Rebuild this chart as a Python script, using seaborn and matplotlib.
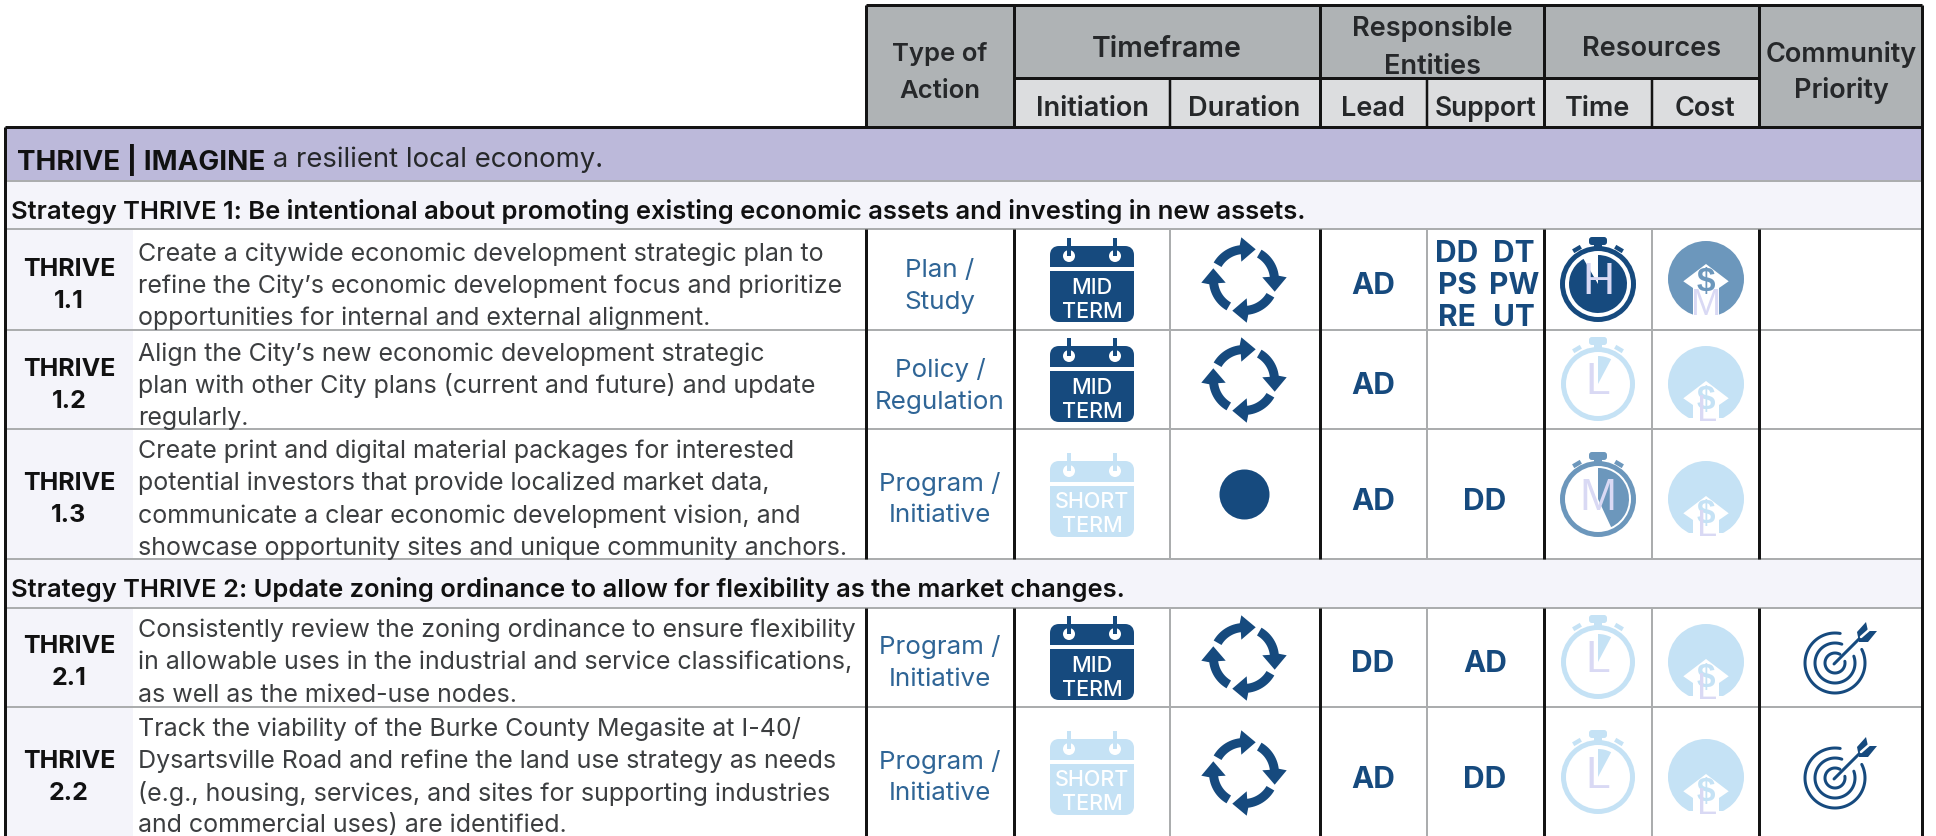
import numpy as np
import pandas as pd
import matplotlib
matplotlib.use("Agg")
import matplotlib.pyplot as plt
from matplotlib.patches import Circle, FancyBboxPatch, Polygon, Rectangle, Wedge
import seaborn as sns

# Table content
band_bold = "THRIVE | IMAGINE"
band_rest = " a resilient local economy."
strategy_titles = [
    "Strategy THRIVE 1: Be intentional about promoting existing economic assets and investing in new assets.",
    "Strategy THRIVE 2: Update zoning ordinance to allow for flexibility as the market changes.",
]
row_ids = ["1.1", "1.2", "1.3", "2.1", "2.2"]
row_text = [
    ["Create a citywide economic development strategic plan to",
     "refine the City\u2019s economic development focus and prioritize",
     "opportunities for internal and external alignment."],
    ["Align the City\u2019s new economic development strategic",
     "plan with other City plans (current and future) and update",
     "regularly."],
    ["Create print and digital material packages for interested",
     "potential investors that provide localized market data,",
     "communicate a clear economic development vision, and",
     "showcase opportunity sites and unique community anchors."],
    ["Consistently review the zoning ordinance to ensure flexibility",
     "in allowable uses in the industrial and service classifications,",
     "as well as the mixed-use nodes."],
    ["Track the viability of the Burke County Megasite at I-40/",
     "Dysartsville Road and refine the land use strategy as needs",
     "(e.g., housing, services, and sites for supporting industries",
     "and commercial uses) are identified."],
]
action_types = [["Plan /", "Study"], ["Policy /", "Regulation"], ["Program /", "Initiative"],
                ["Program /", "Initiative"], ["Program /", "Initiative"]]
initiation = ["MID", "MID", "SHORT", "MID", "SHORT"]
duration = ["ongoing", "ongoing", "once", "ongoing", "ongoing"]
lead = ["AD", "AD", "AD", "DD", "AD"]
support = [["DD", "DT", "PS", "PW", "RE", "UT"], [], ["DD"], ["AD"], ["DD"]]
time_need = ["H", "L", "M", "L", "L"]
cost_need = ["M", "L", "L", "L", "L"]
priority = [False, False, False, True, True]

sns.set_theme(style="white")
FONT = "Inter"
plt.rcParams["font.family"] = [FONT, "DejaVu Sans"]

# colours by level
pal = sns.blend_palette(["#C5E2F5", "#6C97BC", "#164A7E"], 3)
level_col = {"L": pal[0], "M": pal[1], "H": pal[2]}
DARK = "#164A7E"
LINK = "#2F6596"
INK = "#26282A"
BODY = "#3C3E40"
LETTER = "#D9D9F4"
GREY = "#ABADAE"
BLACK = "#141414"

# layout, all in reference pixels
W, H = 1936, 836
row_tops = [229, 330, 429, 608, 707]
row_bots = [330, 429, 559, 707, 836]
icon_top = [238, 338, 453, 616, 731]
cost_cy = [279, 384, 499, 662, 777]
line_y = [[252, 284, 316], [352, 384, 416], [449, 481.5, 514, 546],
          [628.5, 660.5, 693], [727, 759, 791, 823.5]]
id_y = [[267, 300], [368, 400], [481.5, 514], [644.5, 676.5], [759, 791]]
type_y = [[268, 300], [368, 400], [482, 514], [645, 677], [760, 792]]
mid_y = [284, 384, 499, 662, 777]
X_TYPE, X_INIT, X_DUR, X_LEAD, X_SUP, X_TIME, X_COST, X_PRI = 940, 1092, 1244, 1373, 1485, 1598, 1706, 1835


def px(n):
    return n * 0.72


fig = plt.figure(figsize=(W / 100, H / 100), dpi=100, facecolor="white")
ax = fig.add_axes([0, 0, 1, 1])
ax.set_xlim(0, W)
ax.set_ylim(H, 0)
ax.axis("off")


def rect(x0, y0, x1, y1, color, z=1):
    ax.add_patch(Rectangle((x0, y0), x1 - x0, y1 - y0, fc=color, ec="none", zorder=z))


def hline(y, x0, x1, color, w):
    ax.plot([x0, x1], [y, y], color=color, lw=px(w), solid_capstyle="butt", zorder=5)


def vline(x, y0, y1, color, w):
    ax.plot([x, x], [y0, y1], color=color, lw=px(w), solid_capstyle="butt", zorder=5)


def label(x, y, s, size, color=INK, weight="normal", ha="center", z=6, **kw):
    return ax.text(x, y - 0.5, s, fontsize=size, color=color, fontweight=weight, ha=ha,
                   va="center_baseline", zorder=z, **kw)


def calendar(cx, y0, term):
    col = level_col["H"] if term == "MID" else level_col["L"]
    ax.add_patch(FancyBboxPatch((cx - 39, y0 + 11), 78, 70, boxstyle="round,pad=0,rounding_size=6",
                                fc=col, ec=col, lw=px(6), zorder=7, joinstyle="round"))
    rect(cx - 43, y0 + 29, cx + 43, y0 + 33, "white", 8)
    for dx in (-23, 23):
        ax.add_patch(Circle((cx + dx, y0 + 18), 6, fc="white", ec="none", zorder=8))
        rect(cx + dx - 2, y0, cx + dx + 2, y0 + 18, col, 9)
    label(cx, y0 + 48, term, 15.5, "white", "medium", z=9)
    label(cx, y0 + 72, "TERM", 15.5, "white", "medium", z=9)


def cycle(cx, cy):
    t = np.radians(np.linspace(150, 97, 16))
    outer = np.c_[35 * np.cos(t), -35 * np.sin(t)]
    inner = np.c_[26 * np.cos(t[::-1]), -26 * np.sin(t[::-1])]
    head = np.array([[-2.7, -42.7], [11.7, -30.7], [-2.7, -18.3]])
    shape = np.r_[outer, head[:1], head[1:2], head[2:], inner]
    for k in range(4):
        ang = np.pi / 2 * k
        rot = np.array([[np.cos(ang), -np.sin(ang)], [np.sin(ang), np.cos(ang)]])
        ax.add_patch(Polygon(shape @ rot.T + [cx, cy], fc=DARK, ec="none", zorder=7))


def stopwatch(cx, y0, level):
    col = level_col[level]
    cy = y0 + 47
    r = 38 if level != "L" else 37
    ax.add_patch(Circle((cx, cy), r - 2.5, fc="none", ec=col, lw=px(5), zorder=7))
    ax.add_patch(FancyBboxPatch((cx - 8, y0 + 1), 16, 6, boxstyle="round,pad=0,rounding_size=2",
                                fc=col, ec=col, lw=px(2), zorder=7))
    rect(cx - 4, y0 + 7, cx + 4, y0 + 11, col, 7)
    for sgn in (-1, 1):
        c = np.array([cx + sgn * 21, y0 + 12])
        d = np.array([sgn * 0.85, 0.5]) * 4.5
        n = np.array([-0.5, sgn * 0.85]) * 2.2
        ax.add_patch(Polygon([c - d - n, c + d - n, c + d + n, c - d + n], fc=col, ec="none", zorder=7))
    sweep = {"L": 28, "M": 155, "H": 330}[level]
    rad = {"L": 28, "M": 31, "H": 29}[level]
    ax.add_patch(Wedge((cx, cy), rad, -90, -90 + sweep, fc=col, ec="none", zorder=7))
    ax.text(cx, cy - 1, level, fontsize=32, family="Liberation Sans", color=LETTER,
            ha="center", va="center", zorder=8)


def cost(cx, cy, level):
    col = level_col[level]
    low = level == "L"
    drop = 12 if low else 0
    clip = Rectangle((cx - 45, cy - 45), 90, 45 + (34 if low else 36), transform=ax.transData)
    disc = Circle((cx, cy), 38, fc=col, ec="none", zorder=7)
    ax.add_patch(disc)
    disc.set_clip_path(clip)
    house = [(0, -15), (22.7, 2.3), (13, 9), (13, 40), (-13, 40), (-13, 9), (-22.7, 2.3)]
    hp = Polygon(np.array(house) + [cx, cy + drop], fc="white", ec="none", zorder=8)
    ax.add_patch(hp)
    hp.set_clip_path(clip)
    ax.text(cx, cy + 4 + drop, "$", fontsize=24, family="Liberation Sans", fontweight="bold", color=col,
            ha="center", va="center", zorder=9)
    t = ax.text(cx + (1 if low else 0), cy + (37 if low else 36), level, fontsize=26,
                family="Liberation Sans", color=LETTER, ha="center", va="baseline", zorder=10)
    t.set_clip_path(clip)


def target(cx, cy):
    for r, a0, a1 in [(30, -27, 280), (20, -20, 290), (10, -10, 300)]:
        t = np.radians(np.linspace(a0, a1, 90))
        ax.plot(cx + r * np.cos(t), cy + r * np.sin(t), color=DARK, lw=px(3), zorder=7,
                solid_capstyle="round")
    ax.plot([cx - 1, cx + 26], [cy + 1, cy - 26], color=DARK, lw=px(3), zorder=7)
    fl = np.array([(22, -31), (31, -41), (33, -32), (42, -32), (33, -21), (24, -21)])
    ax.add_patch(Polygon(fl + [cx, cy], fc=DARK, ec="none", zorder=7))
    ax.plot([cx + 26, cx + 34], [cy - 26, cy - 33], color="white", lw=px(2.5), zorder=8)


# Header and band fills
rect(866, 5, 1922, 78, "#AFB3B5")
rect(866, 78, 1014, 127, "#AFB3B5")
rect(1760, 78, 1922, 127, "#AFB3B5")
rect(1014, 78, 1760, 127, "#DCDDDF")
rect(5, 127, 1922, 181, "#BCB9DA")
rect(5, 181, 1922, 229, "#F4F4FA")
rect(5, 559, 1922, 608, "#F4F4FA")
for top, bot in zip(row_tops, row_bots):
    rect(5, top, 133, bot, "#F4F4FA")

# Grid
for y in (181, 229, 330, 429, 559, 608, 707):
    hline(y, 5, 1922, GREY, 2)
for x in (866, 1014, 1320, 1544, 1759):
    vline(x, 5, 127, BLACK, 3)
    vline(x, 229, 559, BLACK, 3)
    vline(x, 608, 836, BLACK, 3)
for x in (1170, 1427, 1652):
    vline(x, 78, 127, BLACK, 2.5)
    vline(x, 229, 559, GREY, 2)
    vline(x, 608, 836, GREY, 2)
vline(1922, 5, 836, BLACK, 3)
vline(5, 127, 836, BLACK, 3)
hline(5, 866, 1922, BLACK, 3)
hline(78, 1014, 1760, BLACK, 3)
hline(127, 5, 1922, BLACK, 3)

# Header text
HEAD = 19.5
SUB = 19.5
for x, y, s, size in [(X_TYPE, 52, "Type of", 18.5), (X_TYPE, 89, "Action", 18.5),
                      (1167, 47, "Timeframe", 20.5), (1432, 26, "Responsible", HEAD),
                      (1432, 64, "Entities", HEAD), (1652, 46, "Resources", HEAD),
                      (1841, 52, "Community", HEAD), (1841, 88, "Priority", HEAD),
                      (X_INIT, 107, "Initiation", SUB), (X_DUR, 107, "Duration", SUB),
                      (X_LEAD, 107, "Lead", SUB), (1486, 107, "Support", 19),
                      (X_TIME, 107, "Time", SUB), (1705, 107, "Cost", SUB)]:
    label(x, y, s, size, INK, "semibold")

# Bands
tb = label(17, 157, band_bold, 20, "#111111", "bold", ha="left")
fig.canvas.draw()
bb = tb.get_window_extent().transformed(ax.transData.inverted())
label(bb.x1, 157, band_rest, 19.8, INK, ha="left")
label(11, 209, strategy_titles[0], 18.4, "#111111", "semibold", ha="left")
label(11, 588, strategy_titles[1], 18.4, "#111111", "semibold", ha="left")

# Rows
for i, rid in enumerate(row_ids):
    label(69, id_y[i][0], "THRIVE", 18, "#111111", "bold")
    label(69, id_y[i][1], rid, 18, "#111111", "bold")
    for line, y in zip(row_text[i], line_y[i]):
        label(138, y, line, 18, BODY, ha="left")
    for line, y in zip(action_types[i], type_y[i]):
        label(X_TYPE, y, line, 18.7, LINK)
    calendar(X_INIT, icon_top[i], initiation[i])
    if duration[i] == "ongoing":
        cycle(X_DUR, icon_top[i] + 42)
    label(X_LEAD, mid_y[i], lead[i], 21.5, DARK, "bold")
    stopwatch(X_TIME, icon_top[i] - 1, time_need[i])
    cost(X_COST, cost_cy[i], cost_need[i])
    if priority[i]:
        target(X_PRI, cost_cy[i] + 1)
    codes = support[i]
    if len(codes) == 1:
        label(X_SUP, mid_y[i], codes[0], 21.5, DARK, "bold")
    elif codes:
        for k, code in enumerate(codes):
            x = X_SUP + (-28 if k % 2 == 0 else 29)
            label(x, line_y[i][k // 2], code, 21.5, DARK, "bold")

# One-off actions are plain dots
once = pd.DataFrame({"x": [X_DUR for d in duration if d == "once"],
                     "y": [y - 5 for d, y in zip(duration, mid_y) if d == "once"]})
sns.scatterplot(data=once, x="x", y="y", s=px(50) ** 2, color=DARK, linewidth=0, ax=ax, zorder=7, legend=False)
ax.set_xlim(0, W)
ax.set_ylim(H, 0)
ax.axis("off")

fig.savefig("out.png", dpi=100)
plt.close(fig)
